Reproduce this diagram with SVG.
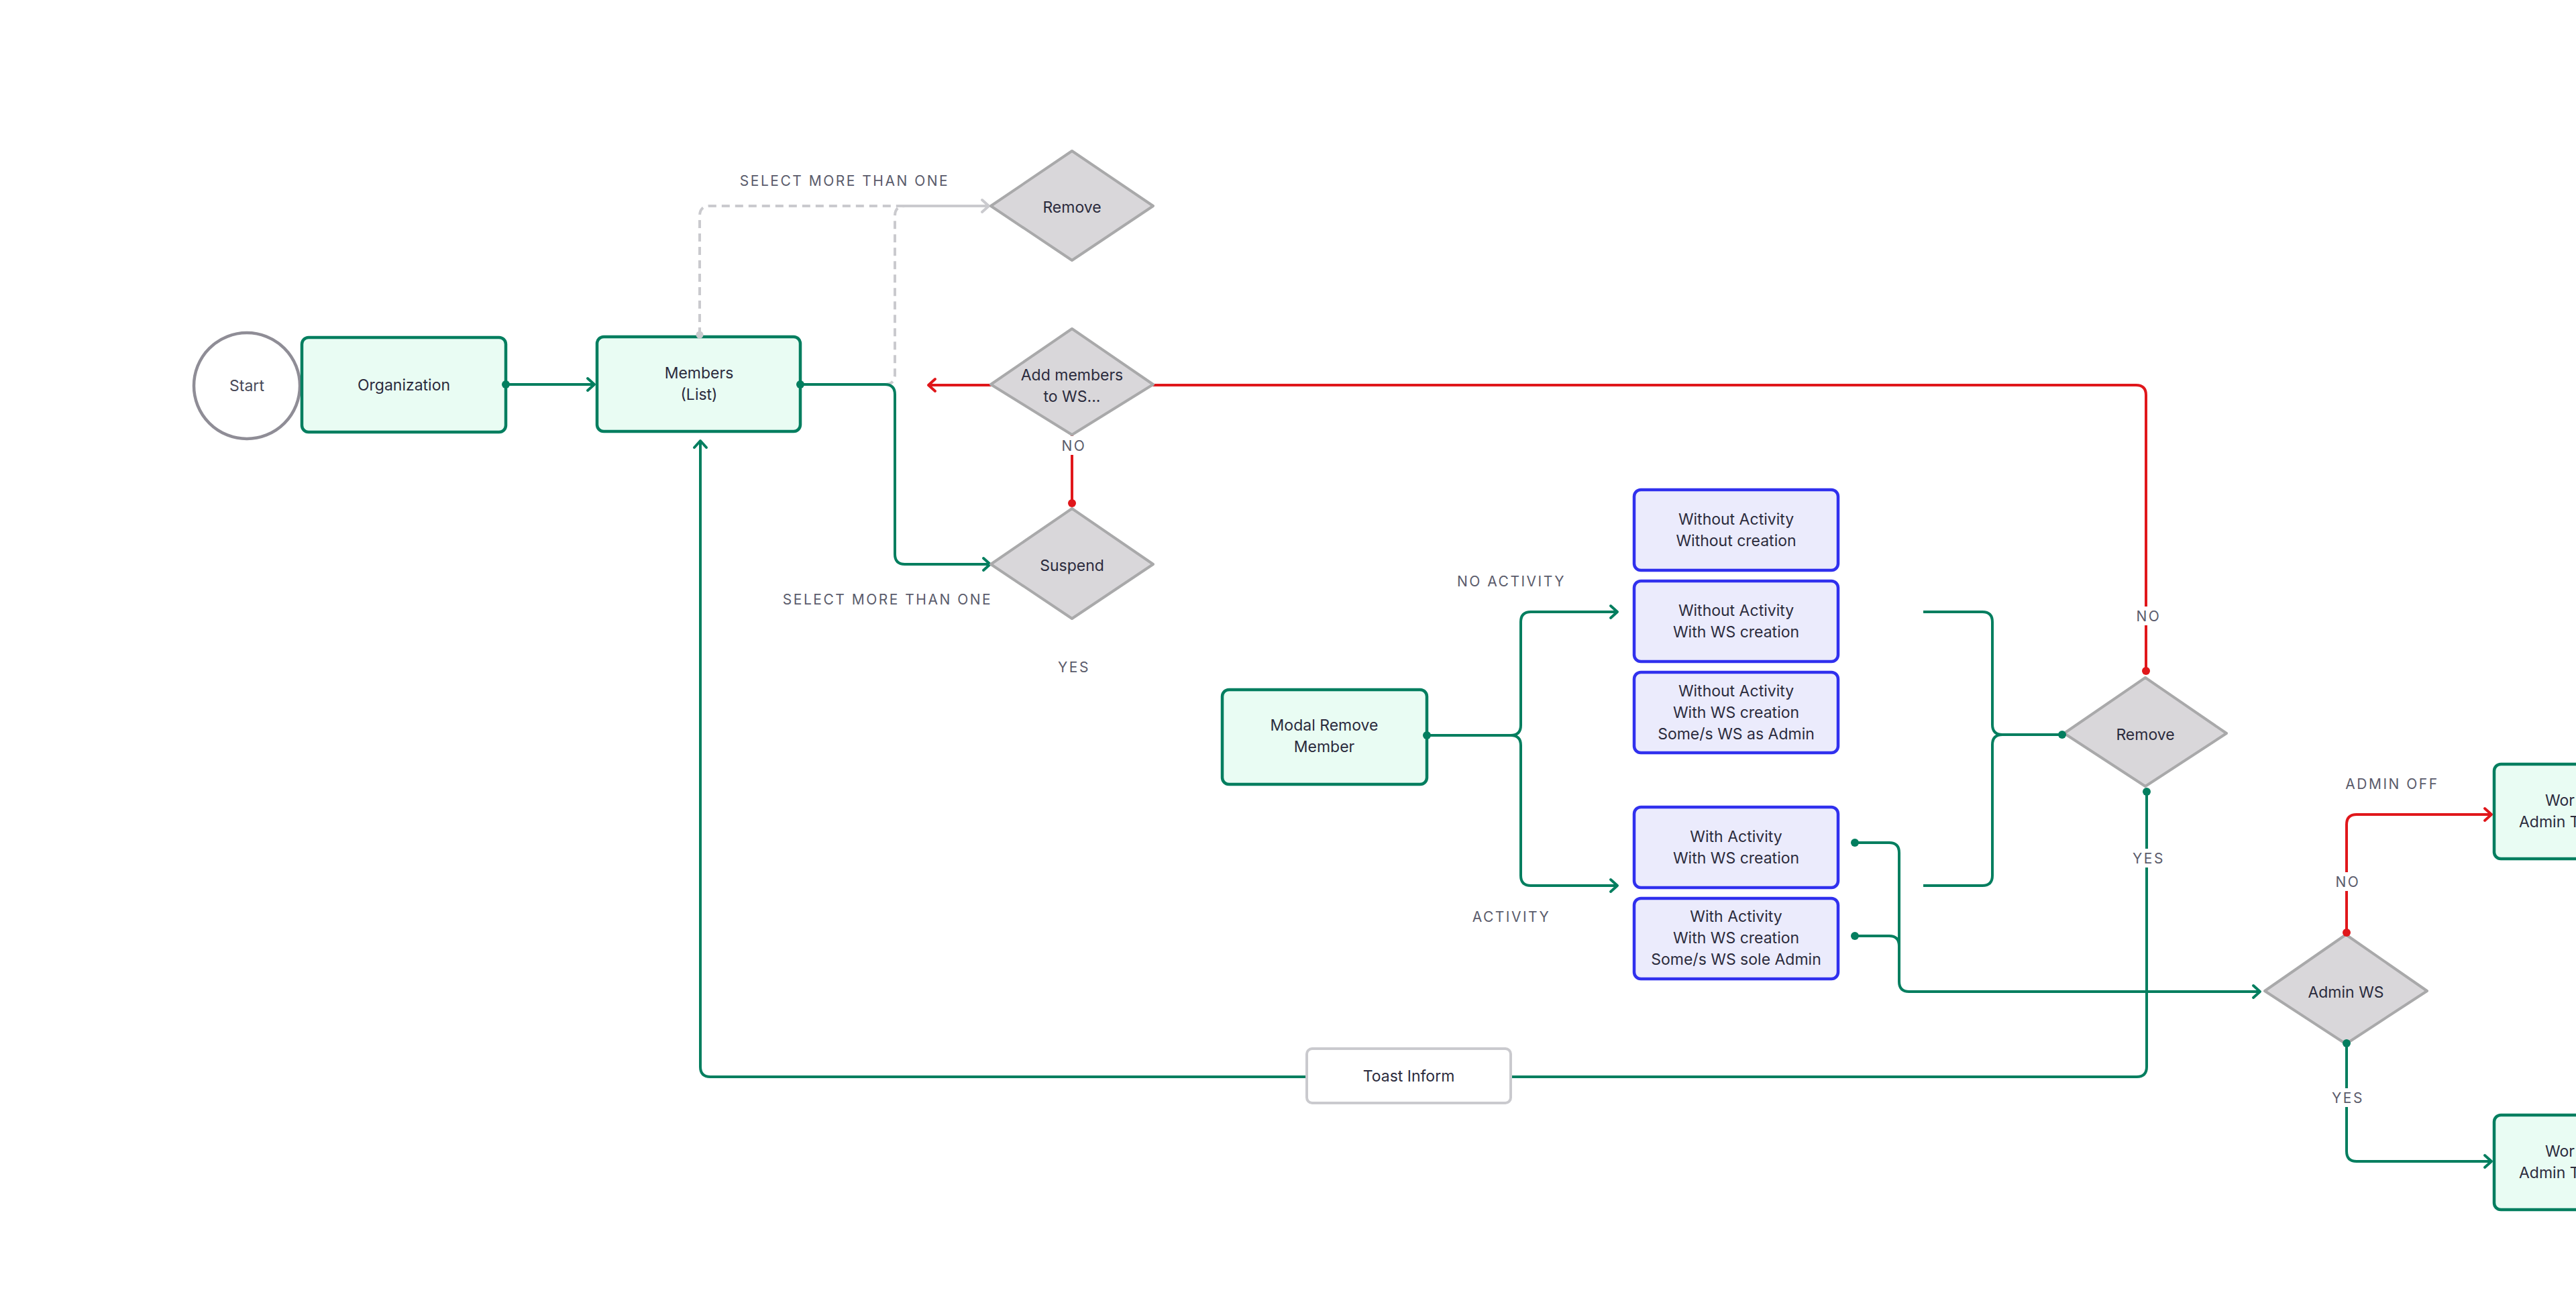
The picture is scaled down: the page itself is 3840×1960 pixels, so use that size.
<svg xmlns="http://www.w3.org/2000/svg" width="3840" height="1960" viewBox="0 0 3840 1960">
<defs>
<style>
.bg{fill:#ffffff}
.gbox{fill:#e9fcf3;stroke:#037e5f;stroke-width:4.5}
.bbox{fill:#ebebfc;stroke:#3030ee;stroke-width:4.5}
.dia{fill:#d9d7da;stroke:#a9a9aa;stroke-width:4;stroke-linejoin:round}
.start{fill:#ffffff;stroke:#8f8d96;stroke-width:4.5}
.toast{fill:#ffffff;stroke:#cacace;stroke-width:4}
.t{font-family:Inter,"Noto Sans",sans-serif;font-size:23px;fill:#2b2b3d;text-anchor:middle;dominant-baseline:central}
.lbl{font-family:Inter,"Noto Sans",sans-serif;font-size:21px;fill:#5a5b6b;text-anchor:middle;dominant-baseline:central;letter-spacing:2.5px}
.g{fill:none;stroke:#037e5f;stroke-width:4}
.r{fill:none;stroke:#e0171b;stroke-width:4}
.d{fill:none;stroke:#cacace;stroke-width:4;stroke-dasharray:12 8}
.gd{fill:#037e5f}
.rd{fill:#e0171b}
.dd{fill:#cacace}
.lb{fill:#ffffff}
</style>
<marker id="ag" markerUnits="userSpaceOnUse" markerWidth="24" markerHeight="24" viewBox="-14 -12 16 24" refX="0" refY="0" orient="auto"><path d="M-10,-9 L0,0 L-10,9" fill="none" stroke="#037e5f" stroke-width="4" stroke-linecap="round" stroke-linejoin="round"/></marker>
<marker id="ar" markerUnits="userSpaceOnUse" markerWidth="24" markerHeight="24" viewBox="-14 -12 16 24" refX="0" refY="0" orient="auto"><path d="M-10,-9 L0,0 L-10,9" fill="none" stroke="#e0171b" stroke-width="4" stroke-linecap="round" stroke-linejoin="round"/></marker>
<marker id="ad" markerUnits="userSpaceOnUse" markerWidth="24" markerHeight="24" viewBox="-14 -12 16 24" refX="0" refY="0" orient="auto"><path d="M-10,-9 L0,0 L-10,9" fill="none" stroke="#cacace" stroke-width="4" stroke-linecap="round" stroke-linejoin="round"/></marker>
</defs>
<rect class="bg" x="0" y="0" width="3840" height="1960"/>

<g id="connectors">
  <path class="d" d="M1043 500 V322 Q1043 307 1058 307 H1474" marker-end="url(#ad)"/>
  <path class="d" d="M1300 573 H1319 Q1334 573 1334 558 V322 Q1334 307 1349 307 H1474"/>
  <path class="g" d="M754 573 H886" marker-end="url(#ag)"/>
  <path class="g" d="M1193 573 H1319 Q1334 573 1334 588 V826 Q1334 841 1349 841 H1476" marker-end="url(#ag)"/>
  <path class="r" d="M1598 750 V648"/>
  <path class="r" d="M3199 1000 V589 Q3199 574 3184 574 H1384" marker-end="url(#ar)"/>
  <path class="g" d="M2127 1096 H2252 Q2267 1096 2267 1081 V927 Q2267 912 2282 912 H2411" marker-end="url(#ag)"/>
  <path class="g" d="M2127 1096 H2252 Q2267 1096 2267 1111 V1305 Q2267 1320 2282 1320 H2411" marker-end="url(#ag)"/>
  <path class="g" d="M2867 912 H2955 Q2970 912 2970 927 V1080 Q2970 1095 2985 1095 H3074"/>
  <path class="g" d="M2867 1320 H2955 Q2970 1320 2970 1305 V1110 Q2970 1095 2985 1095 H3074"/>
  <path class="g" d="M2765 1256 H2816 Q2831 1256 2831 1271 V1463 Q2831 1478 2846 1478 H3369" marker-end="url(#ag)"/>
  <path class="g" d="M2765 1395 H2816 Q2831 1395 2831 1410 V1463"/>
  <path class="g" d="M3200 1180 V1590 Q3200 1605 3185 1605 H1059 Q1044 1605 1044 1590 V657" marker-end="url(#ag)"/>
  <path class="r" d="M3498 1390 V1229 Q3498 1214 3513 1214 H3714" marker-end="url(#ar)"/>
  <path class="g" d="M3498 1555 V1716 Q3498 1731 3513 1731 H3714" marker-end="url(#ag)"/>

  <text class="lbl" x="1259" y="269">SELECT MORE THAN ONE</text>
  <text class="lbl" x="1323" y="893">SELECT MORE THAN ONE</text>
  <rect class="lb" x="1580" y="650" width="40" height="28"/>
  <text class="lbl" x="1601" y="664">NO</text>
  <text class="lbl" x="1601" y="994">YES</text>
  <text class="lbl" x="2253" y="866">NO ACTIVITY</text>
  <text class="lbl" x="2253" y="1366">ACTIVITY</text>
  <rect class="lb" x="3182" y="904" width="40" height="28"/>
  <text class="lbl" x="3203" y="918">NO</text>
  <rect class="lb" x="3172" y="1265" width="60" height="28"/>
  <text class="lbl" x="3203" y="1279">YES</text>
  <text class="lbl" x="3566" y="1168">ADMIN OFF</text>
  <rect class="lb" x="3479" y="1300" width="40" height="28"/>
  <text class="lbl" x="3500" y="1314">NO</text>
  <rect class="lb" x="3469" y="1622" width="60" height="28"/>
  <text class="lbl" x="3500" y="1636">YES</text>
</g>

<g id="start"><circle class="start" cx="368" cy="575" r="79"/><text class="t" x="368" y="575" style="fill:#4a4a58">Start</text></g>
<g id="organization"><rect class="gbox" x="450" y="503" width="304" height="141" rx="10"/><text class="t" x="602" y="574">Organization</text></g>
<g id="members"><rect class="gbox" x="890" y="502" width="303" height="141" rx="10"/><text class="t" x="1042" y="556">Members</text><text class="t" x="1042" y="588">(List)</text></g>
<g id="remove-top"><polygon class="dia" points="1598,225 1719,307 1598,388 1477,307"/><text class="t" x="1598" y="309">Remove</text></g>
<g id="add-members"><polygon class="dia" points="1598,490 1719,573 1598,648 1477,573"/><text class="t" x="1598" y="559">Add members</text><text class="t" x="1598" y="591">to WS...</text></g>
<g id="suspend"><polygon class="dia" points="1598,758 1719,841 1598,922 1477,841"/><text class="t" x="1598" y="843">Suspend</text></g>
<g id="modal-remove"><rect class="gbox" x="1822" y="1028" width="305" height="141" rx="10"/><text class="t" x="1974" y="1081">Modal Remove</text><text class="t" x="1974" y="1113">Member</text></g>
<g id="b1"><rect class="bbox" x="2436" y="730" width="304" height="120" rx="10"/><text class="t" x="2588" y="774">Without Activity</text><text class="t" x="2588" y="806">Without creation</text></g>
<g id="b2"><rect class="bbox" x="2436" y="866" width="304" height="120" rx="10"/><text class="t" x="2588" y="910">Without Activity</text><text class="t" x="2588" y="942">With WS creation</text></g>
<g id="b3"><rect class="bbox" x="2436" y="1002" width="304" height="120" rx="10"/><text class="t" x="2588" y="1030">Without Activity</text><text class="t" x="2588" y="1062">With WS creation</text><text class="t" x="2588" y="1094">Some/s WS as Admin</text></g>
<g id="b4"><rect class="bbox" x="2436" y="1203" width="304" height="120" rx="10"/><text class="t" x="2588" y="1247">With Activity</text><text class="t" x="2588" y="1279">With WS creation</text></g>
<g id="b5"><rect class="bbox" x="2436" y="1339" width="304" height="120" rx="10"/><text class="t" x="2588" y="1366">With Activity</text><text class="t" x="2588" y="1398">With WS creation</text><text class="t" x="2588" y="1430">Some/s WS sole Admin</text></g>
<g id="remove-right"><polygon class="dia" points="3198,1010 3319,1093 3198,1172 3077,1093"/><text class="t" x="3198" y="1095">Remove</text></g>
<g id="admin-ws"><polygon class="dia" points="3497,1393 3618,1477 3497,1556 3376,1477"/><text class="t" x="3497" y="1479">Admin WS</text></g>
<g id="toast"><rect class="toast" x="1948" y="1563" width="304" height="81" rx="8"/><text class="t" x="2100" y="1604">Toast Inform</text></g>
<g id="ws-top"><rect class="gbox" x="3718" y="1139" width="304" height="141" rx="10"/><text class="t" x="3794" y="1193" style="text-anchor:start">Wor</text><text class="t" x="3755" y="1225" style="text-anchor:start">Admin T</text></g>
<g id="ws-bottom"><rect class="gbox" x="3718" y="1662" width="304" height="141" rx="10"/><text class="t" x="3794" y="1716" style="text-anchor:start">Wor</text><text class="t" x="3755" y="1748" style="text-anchor:start">Admin T</text></g>

<g id="connector-ends">
  <circle class="dd" cx="1043" cy="499" r="5.5"/>
  <circle class="gd" cx="754" cy="573" r="6"/>
  <circle class="gd" cx="1193" cy="573" r="6"/>
  <circle class="rd" cx="1598" cy="750" r="6"/>
  <circle class="rd" cx="3199" cy="1000" r="6"/>
  <circle class="gd" cx="2127" cy="1096" r="6"/>
  <circle class="gd" cx="3074" cy="1095" r="6"/>
  <circle class="gd" cx="2765" cy="1256" r="6"/>
  <circle class="gd" cx="2765" cy="1395" r="6"/>
  <circle class="gd" cx="3200" cy="1180" r="6"/>
  <circle class="rd" cx="3498" cy="1390" r="6"/>
  <circle class="gd" cx="3498" cy="1555" r="6"/>
</g>
</svg>
